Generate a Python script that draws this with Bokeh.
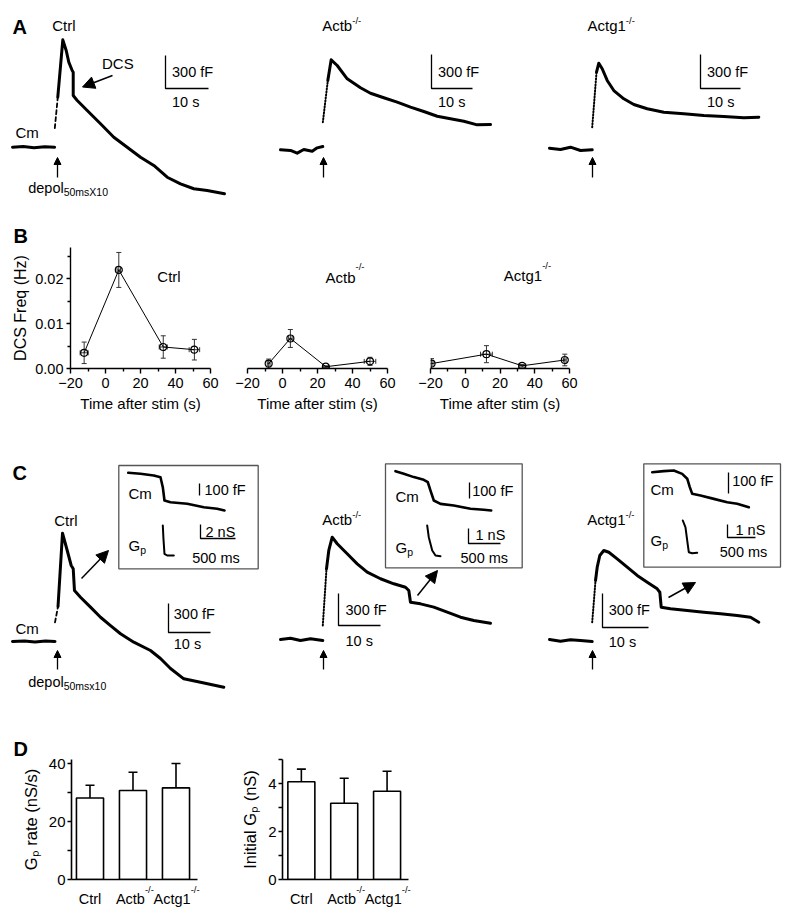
from bokeh.plotting import figure
from bokeh.models import (Range1d, Label, Arrow, NormalHead, Whisker, TeeHead,
                          ColumnDataSource, FixedTicker, PrintfTickFormatter,
                          CustomJSTickFormatter, LinearAxis)
from bokeh.layouts import column, row
from bokeh.embed import file_html
from bokeh.resources import INLINE

FONT = "Liberation Sans"

# ======================= DATA =======================
groups = ["Ctrl", "Actb", "Actg1"]
ko_sup = "-/-"

# ---- Panel A : Cm traces (t: s after stimulus, cm: fF relative to baseline)
A_ctrl_base_t = [-10.0, -7.5, -5.0, -2.5, -0.2]
A_ctrl_base_cm = [0, 6, -4, 5, 0]
A_ctrl_rise_t = [-0.16, 0.53]
A_ctrl_rise_cm = [173, 455]
A_ctrl_t = [0.53, 1.70, 2.49, 3.09, 3.88, 4.12, 4.12, 5.05, 7.37, 10.47, 13.56, 16.67,
            19.77, 22.86, 25.98, 29.07, 32.16, 35.28, 39.3]
A_ctrl_cm = [455, 976, 879, 773, 697, 682, 470, 425, 334, 213, 91, 0, -91, -166, -273,
             -333, -378, -394, -424]

A_actb_base_t = [-10.56, -8.12, -6.49, -4.88, -2.83, -1.61, -0.24]
A_actb_base_cm = [2, -4, -28, 4, -11, 19, 31]
A_actb_rise_t = [-0.24, 0.98]
A_actb_rise_cm = [245, 613]
A_actb_t = [0.98, 1.80, 3.27, 5.71, 8.95, 11.39, 14.63, 17.90, 21.15, 24.39, 27.66, 30.9,
            34.15, 37.41, 40.66]
A_actb_cm = [613, 796, 746, 628, 549, 501, 461, 422, 378, 340, 298, 275, 254, 222, 225]

A_actg_base_t = [-10.83, -8.08, -5.58, -3.08, -0.15]
A_actg_base_cm = [7, -4, 16, -13, -7]
A_actg_rise_t = [-0.15, 0.93]
A_actg_rise_cm = [192, 678]
A_actg_t = [0.93, 1.50, 2.35, 3.6, 5.25, 7.75, 10.25, 13.6, 17.75, 22.75, 27.75, 32.75,
            37.75, 41.5]
A_actg_cm = [678, 757, 708, 605, 516, 443, 393, 355, 325, 311, 296, 287, 275, 281]

# ---- Panel B : DCS frequency (Hz) vs time after stim (s), mean +/- SEM
B_ctrl_t = [-12.2, 7.6, 33.0, 50.8]
B_ctrl_f = [0.0035, 0.0220, 0.0048, 0.0042]
B_ctrl_ferr = [0.0024, 0.0039, 0.0025, 0.0023]
B_ctrl_terr = [2.3, 1.0, 2.3, 3.0]
B_actb_t = [-7.9, 4.5, 24.8, 50.0]
B_actb_f = [0.0011, 0.0067, 0.0004, 0.0016]
B_actb_ferr = [0.0010, 0.0020, 0.0002, 0.0009]
B_actb_terr = [0.8, 1.0, 1.5, 3.3]
B_actg_t = [-19.4, 12.2, 32.8, 57.3]
B_actg_f = [0.0011, 0.0032, 0.0006, 0.0019]
B_actg_ferr = [0.0011, 0.0019, 0.0003, 0.0013]
B_actg_terr = [0.8, 3.4, 2.0, 0.8]
B_xticks = [-20, 0, 20, 40, 60]
B_yticks = [0.0, 0.01, 0.02]

# ---- Panel C : Cm traces (s, fF)
C_ctrl_base_t = [-10.36, -7.5, -5.0, -2.5, -0.24]
C_ctrl_base_cm = [0, 5, -5, 4, 0]
C_ctrl_rise_t = [-0.24, 0.48]
C_ctrl_rise_cm = [197, 362]
C_ctrl_t = [0.48, 1.55, 2.67, 3.62, 4.10, 4.40, 5.83, 8.21, 10.6, 12.98, 15.36, 18.52,
            22.5, 24.88, 27.26, 30.43, 34.4, 39.95]
C_ctrl_cm = [362, 1120, 941, 786, 752, 527, 458, 355, 251, 165, 80, -7, -93, -176, -279,
             -386, -421, -473]

C_actb_base_t = [-10.31, -7.93, -5.55, -3.17, -0.24]
C_actb_base_cm = [3, 15, -7, 9, -7]
C_actb_rise_t = [-0.24, 0.64]
C_actb_rise_cm = [134, 665]
C_actb_t = [0.64, 1.19, 2.0, 3.19, 5.57, 7.95, 10.33, 13.5, 16.67, 19.45, 20.24, 20.64,
            23.02, 26.19, 29.38, 32.55, 35.71, 39.69]
C_actb_cm = [665, 837, 962, 900, 806, 712, 634, 572, 525, 493, 462, 352, 337, 306, 259,
             212, 181, 156]

C_actg_base_t = [-9.41, -7.02, -4.85, -2.67, -0.13]
C_actg_base_cm = [9, -6, 6, 0, -9]
C_actg_rise_t = [-0.13, 0.59]
C_actg_rise_cm = [161, 530]
C_actg_t = [0.59, 0.96, 1.52, 2.39, 3.48, 5.3, 7.48, 9.65, 11.83, 14.0, 14.57, 14.87,
            16.89, 20.52, 24.13, 27.76, 31.39, 34.28, 36.09]
C_actg_cm = [530, 647, 750, 794, 779, 721, 647, 574, 515, 456, 426, 294, 280, 265, 250,
             236, 221, 206, 161]

# ---- Panel C insets : single DCS event (ms, fF) and Gp (ms, nS)
I_ctrl_t = [-494, -319, -129, -33, 0, 24, 110, 349, 586, 777, 881]
I_ctrl_cm = [0, -8, -22, -37, -120, -231, -245, -258, -287, -300, -314]
I_ctrl_gt = [0, 10, 24, 63, 157]
I_ctrl_gp = [4.29, 2.3, 0.24, 0.0, 0.0]
I_actb_t = [-547, -417, -261, -105, -42, 0, 52, 156, 364, 625, 833, 948]
I_actb_cm = [0, -16, -37, -54, -69, -121, -183, -204, -214, -235, -241, -246]
I_actb_gt = [-52, -27, 27, 78, 156]
I_actb_gp = [2.05, 1.27, 0.38, 0.05, 0.0]
I_actg_t = [-671, -464, -286, -136, -46, 0, 43, 191, 429, 668, 846, 1054]
I_actg_cm = [0, 5, 8, -8, -31, -71, -103, -111, -127, -143, -150, -167]
I_actg_gt = [-125, -77, -46, -18, 43, 132]
I_actg_gp = [2.5, 1.98, 0.96, 0.06, -0.02, 0.02]

# ---- Panel D : bars, mean + SEM
D_rate = [28.2, 30.8, 31.7]
D_rate_err = [4.4, 6.3, 8.4]
D_init = [4.07, 3.18, 3.68]
D_init_err = [0.53, 1.04, 0.83]

# ======================= HELPERS =======================
PW = 800
AW = {'A': .667, 'c': .5, 't': .278, 'b': .556, 'g': .556, '1': .556, 'C': .722,
      'r': .333, 'l': .222, 'd': .556, 'e': .556, 'p': .556, 'o': .556, 'G': .778,
      '-': .333, '/': .278}


def tw(s, size):
    return sum(AW.get(ch, .556) for ch in s) * size


def txt(p, x, y, s, size=14.5, align="left", bold=False, **kw):
    p.add_layout(Label(x=x, y=y, text=s, text_font=FONT, text_font_size=f"{size}px",
                       text_align=align, text_baseline="middle", text_color="black",
                       text_font_style="bold" if bold else "normal", **kw))


def ko(p, x, y, main, size=15, up=5.5, sub=False, subtext=None, subsize=9.5):
    txt(p, x, y, main, size)
    s = subtext if subtext is not None else ko_sup
    dy = 4 if sub else -up
    txt(p, x + tw(main, size), y + dy, s, subsize)


def frames(p, spec, top, bottom):
    xr, yr = {}, {}
    for name, f in spec.items():
        xr[name] = Range1d((0 - f["x0"]) / f["sx"], (PW - f["x0"]) / f["sx"])
        yr[name] = Range1d((f["y0"] - bottom) / f["sy"], (f["y0"] - top) / f["sy"])
    p.extra_x_ranges = xr
    p.extra_y_ranges = yr


def pdata(f, px, py):
    return (px - f["x0"]) / f["sx"], (f["y0"] - py) / f["sy"]


def trace(p, name, t, y, lw=3.0, dash="solid"):
    p.line(t, y, x_range_name=name, y_range_name=name, line_color="black",
           line_width=lw, line_dash=dash, line_join="round", line_cap="round")


def lbar(p, name, f, px, py, dx, dy, lw=1.3):
    tx, ty = pdata(f, px, py)
    p.line([tx, tx, tx + dx], [ty + dy, ty, ty], x_range_name=name, y_range_name=name,
           line_color="black", line_width=lw)


def arrow(p, x0, y0, x1, y1, size=10, lw=1.5):
    p.add_layout(Arrow(end=NormalHead(size=size, fill_color="black", line_color="black"),
                       x_start=x0, y_start=y0, x_end=x1, y_end=y1,
                       line_width=lw, line_color="black"))


def canvas(top, bottom):
    p = figure(width=PW, height=bottom - top, x_range=Range1d(0, PW),
               y_range=Range1d(bottom, top), x_axis_location=None, y_axis_location=None,
               min_border=0, output_backend="svg", toolbar_location=None)
    p.outline_line_color = None
    p.grid.visible = False
    return p


def style_axis(ax, lw=1.5, tick_size="14.5px", label_size="15px"):
    ax.axis_line_width = lw
    ax.axis_line_color = "black"
    ax.major_tick_line_width = lw
    ax.minor_tick_line_width = lw
    ax.major_tick_line_color = "black"
    ax.minor_tick_line_color = "black"
    ax.major_tick_in = 0
    ax.minor_tick_in = 0
    ax.major_label_text_font = FONT
    ax.major_label_text_font_size = tick_size
    ax.major_label_text_color = "black"
    ax.axis_label_text_font = FONT
    ax.axis_label_text_font_style = "normal"
    ax.axis_label_text_font_size = label_size
    ax.axis_label_text_color = "black"


# ======================= PANEL A (page y 0..247) =======================
pA = canvas(0, 247)
FA = {"a_ctrl": dict(x0=55.0, y0=146.7, sx=4.3, sy=0.11),
      "a_actb": dict(x0=323.3, y0=149.5, sx=4.1, sy=0.1133),
      "a_actg": dict(x0=592.3, y0=148.5, sx=4.0, sy=0.1133)}
frames(pA, FA, 0, 247)

trace(pA, "a_ctrl", A_ctrl_base_t, A_ctrl_base_cm)
trace(pA, "a_ctrl", A_ctrl_rise_t, A_ctrl_rise_cm, lw=1.8, dash="4 3")
trace(pA, "a_ctrl", A_ctrl_t, A_ctrl_cm)
trace(pA, "a_actb", A_actb_base_t, A_actb_base_cm)
trace(pA, "a_actb", A_actb_rise_t, A_actb_rise_cm, lw=2.0, dash="1 2")
trace(pA, "a_actb", A_actb_t, A_actb_cm)
trace(pA, "a_actg", A_actg_base_t, A_actg_base_cm)
trace(pA, "a_actg", A_actg_rise_t, A_actg_rise_cm, lw=2.0, dash="1 2")
trace(pA, "a_actg", A_actg_t, A_actg_cm)

for name, cx in (("a_ctrl", 165), ("a_actb", 431), ("a_actg", 700)):
    lbar(pA, name, FA[name], cx, 88, 10, 300)
    txt(pA, cx + 6.5, 71, "300 fF")
    txt(pA, cx + 6.5, 101.5, "10 s")
for ax in (57, 323, 592):
    arrow(pA, ax, 177, ax, 157, size=7, lw=1.3)

txt(pA, 12, 26.5, "A", size=20, bold=True)
txt(pA, 63.3, 25, "Ctrl", 15, align="center")
ko(pA, 321.7, 25, "Actb")
ko(pA, 587, 25, "Actg1")
txt(pA, 101.5, 63, "DCS", 15)
arrow(pA, 112, 75, 82, 86.5, size=12, lw=1.5)
txt(pA, 15, 132, "Cm", 15)
ko(pA, 27.7, 187, "depol", 14.5, sub=True, subtext="50msX10", subsize=10.5)
txt(pA, 13, 235.5, "B", size=20, bold=True)


# ======================= PANEL B (page y 247..420) =======================
def bpanel(width, bl, br, t, f, ferr, terr, with_y):
    p = figure(width=width, height=173, x_range=Range1d(-20, 60),
               y_range=Range1d(0, 121.0 / 4480.0),
               output_backend="svg", toolbar_location=None,
               min_border_left=bl, min_border_right=br, min_border_top=0,
               min_border_bottom=52, y_axis_location="left" if with_y else None)
    p.grid.visible = False
    p.outline_line_color = None
    p.xaxis.ticker = FixedTicker(ticks=B_xticks, minor_ticks=[-10, 10, 30, 50])
    p.xaxis.axis_label = "Time after stim (s)"
    style_axis(p.xaxis[0], lw=1.4)
    p.xaxis.major_tick_out = 5
    p.xaxis.minor_tick_out = 3
    p.xaxis.major_label_standoff = 4
    p.xaxis.axis_label_standoff = 4
    if with_y:
        p.yaxis.ticker = FixedTicker(ticks=B_yticks, minor_ticks=[0.005, 0.015, 0.025])
        p.yaxis.formatter = PrintfTickFormatter(format="%.2f")
        p.yaxis.axis_label = "DCS Freq (Hz)"
        style_axis(p.yaxis[0], lw=1.4, label_size="16px")
        p.yaxis.major_tick_out = 4
        p.yaxis.minor_tick_out = 3
        p.yaxis.major_label_standoff = 3
        p.yaxis.axis_label_standoff = 3
    src = ColumnDataSource(dict(
        t=t, f=f,
        flo=[a - b for a, b in zip(f, ferr)], fhi=[a + b for a, b in zip(f, ferr)],
        tlo=[a - b for a, b in zip(t, terr)], thi=[a + b for a, b in zip(t, terr)]))
    p.add_layout(Whisker(source=src, base="t", lower="flo", upper="fhi", dimension="height",
                         line_color="#333333", line_width=1,
                         lower_head=TeeHead(size=5, line_color="#333333", line_width=1),
                         upper_head=TeeHead(size=5, line_color="#333333", line_width=1)))
    p.add_layout(Whisker(source=src, base="f", lower="tlo", upper="thi", dimension="width",
                         line_color="#333333", line_width=1,
                         lower_head=TeeHead(size=5, line_color="#333333", line_width=1),
                         upper_head=TeeHead(size=5, line_color="#333333", line_width=1)))
    p.line("t", "f", source=src, line_color="black", line_width=1)
    p.scatter("t", "f", source=src, size=7, marker="circle", fill_color=None,
              line_color="black", line_width=1.2)
    return p


pB1 = bpanel(230, 70, 20, B_ctrl_t, B_ctrl_f, B_ctrl_ferr, B_ctrl_terr, True)
pB2 = bpanel(185, 17, 28, B_actb_t, B_actb_f, B_actb_ferr, B_actb_terr, False)
pB3 = bpanel(385, 15, 231, B_actg_t, B_actg_f, B_actg_ferr, B_actg_terr, False)


def bxy(px, py, left, pxu):
    return -20 + (px - left) / pxu, (368.0 - py) / 4480.0


x, y = bxy(168.5, 276, 70, 1.75)
txt(pB1, x, y, "Ctrl", 15, align="center")
x, y = bxy(325, 276.5, 247, 1.75)
txt(pB2, x, y, "Actb", 15)
x, y = bxy(325 + tw("Actb", 15), 266, 247, 1.75)
txt(pB2, x, y, ko_sup, 9.5)
x, y = bxy(503.3, 275, 430, 1.7375)
txt(pB3, x, y, "Actg1", 15)
x, y = bxy(503.3 + tw("Actg1", 15), 264.5, 430, 1.7375)
txt(pB3, x, y, ko_sup, 9.5)

# ======================= PANEL C (page y 420..729) =======================
pC = canvas(420, 729)
FC = {"c_ctrl": dict(x0=55.5, y0=641.0, sx=4.2, sy=0.0967),
      "c_actb": dict(x0=323.3, y0=639.3, sx=4.2, sy=0.1067),
      "c_actg": dict(x0=592.3, y0=640.0, sx=4.6, sy=0.1133),
      "i_ctrl": dict(x0=162.3, y0=472.3, sx=0.07, sy=0.12),
      "g_ctrl": dict(x0=162.3, y0=555.0, sx=0.07, sy=7.0),
      "i_actb": dict(x0=430.0, y0=470.7, sx=0.064, sy=0.16),
      "g_actb": dict(x0=430.0, y0=555.7, sx=0.064, sy=15.0),
      "i_actg": dict(x0=689.3, y0=471.7, sx=0.056, sy=0.21),
      "g_actg": dict(x0=689.3, y0=552.5, sx=0.056, sy=13.0)}
frames(pC, FC, 420, 729)

pC.quad(left=[118.3, 385.0, 643.3], right=[257.7, 521.7, 780.0],
        top=[465.0, 463.3, 463.3], bottom=[568.3, 567.3, 566.7],
        fill_color=None, line_color="#555555", line_width=1.3)

trace(pC, "c_ctrl", C_ctrl_base_t, C_ctrl_base_cm)
trace(pC, "c_ctrl", C_ctrl_rise_t, C_ctrl_rise_cm, lw=1.8, dash="4 3")
trace(pC, "c_ctrl", C_ctrl_t, C_ctrl_cm)
trace(pC, "c_actb", C_actb_base_t, C_actb_base_cm)
trace(pC, "c_actb", C_actb_rise_t, C_actb_rise_cm, lw=2.0, dash="1 2")
trace(pC, "c_actb", C_actb_t, C_actb_cm)
trace(pC, "c_actg", C_actg_base_t, C_actg_base_cm)
trace(pC, "c_actg", C_actg_rise_t, C_actg_rise_cm, lw=2.0, dash="1 2")
trace(pC, "c_actg", C_actg_t, C_actg_cm)

trace(pC, "i_ctrl", I_ctrl_t, I_ctrl_cm, lw=2.6)
trace(pC, "g_ctrl", I_ctrl_gt, I_ctrl_gp, lw=2.0)
trace(pC, "i_actb", I_actb_t, I_actb_cm, lw=2.6)
trace(pC, "g_actb", I_actb_gt, I_actb_gp, lw=2.0)
trace(pC, "i_actg", I_actg_t, I_actg_cm, lw=2.6)
trace(pC, "g_actg", I_actg_gt, I_actg_gp, lw=2.0)

for name, cx, cy, tx, ty1, ty2 in (("c_ctrl", 168, 632, 173.3, 613, 643),
                                   ("c_actb", 338, 625, 345, 609, 640),
                                   ("c_actg", 602, 627, 608.3, 609, 641)):
    lbar(pC, name, FC[name], cx, cy, 10, 300)
    txt(pC, tx, ty1, "300 fF")
    txt(pC, tx, ty2, "10 s")

for name, gname, bx, by, cx, cy, gs in (("i_ctrl", "g_ctrl", 199, 495, 200, 538, 2),
                                        ("i_actb", "g_actb", 469, 498, 468, 543, 1),
                                        ("i_actg", "g_actg", 728, 493, 727, 537, 1)):
    lbar(pC, name, FC[name], bx, by, 0, 100)
    lbar(pC, gname, FC[gname], cx, cy, 500, gs)

txt(pC, 204, 489, "100 fF")
txt(pC, 205, 531.5, "2 nS")
txt(pC, 191.7, 557.5, "500 ms")
txt(pC, 471.7, 490, "100 fF")
txt(pC, 475, 534, "1 nS")
txt(pC, 460, 557.5, "500 ms")
txt(pC, 731.7, 480, "100 fF")
txt(pC, 735, 529, "1 nS")
txt(pC, 719.3, 551, "500 ms")

for cx, cmy, gy in ((128, 493, 545), (395, 496, 547), (650, 489, 540)):
    txt(pC, cx, cmy, "Cm", 15)
    ko(pC, cx, gy, "G", 15, sub=True, subtext="p", subsize=10.5)

txt(pC, 12, 472.5, "C", size=20, bold=True)
txt(pC, 65.3, 520, "Ctrl", 15, align="center")
ko(pC, 321.7, 519, "Actb")
ko(pC, 586.7, 519, "Actg1")
txt(pC, 15, 628, "Cm", 15)
for ax in (57, 323, 592):
    arrow(pC, ax, 669, ax, 650, size=7, lw=1.3)
ko(pC, 27.7, 681, "depol", 14.5, sub=True, subtext="50msx10", subsize=10.5)

arrow(pC, 81, 578, 108, 550, size=12, lw=1.5)
arrow(pC, 417, 595, 437, 570, size=12, lw=1.5)
arrow(pC, 668, 597, 695, 582, size=12, lw=1.5)

# ======================= PANEL D (page y 729..917) =======================
label_shift = [0.0, -0.06, -0.09]


def dpanel(width, bl, br, bt, bb, xr, yr, vals, errs, ylabel, yticks, yminor, pxu,
           letter=None):
    p = figure(width=width, height=188, x_range=Range1d(*xr), y_range=Range1d(*yr),
               output_backend="svg", toolbar_location=None,
               min_border_left=bl, min_border_right=br, min_border_top=bt,
               min_border_bottom=bb)
    p.grid.visible = False
    p.outline_line_color = None
    if letter:
        p.title.text = letter
        p.title.text_font = FONT
        p.title.text_font_size = "20px"
        p.title.text_font_style = "bold"
        p.title.text_color = "black"
        p.title.align = "left"
        p.title.offset = -(bl - 13)
        p.title.standoff = 0
    xs = list(range(len(groups)))
    p.vbar(x=xs, width=0.63, bottom=0, top=vals, fill_color="white",
           line_color="black", line_width=1.6)
    src = ColumnDataSource(dict(x=xs, lo=vals, hi=[v + e for v, e in zip(vals, errs)]))
    p.add_layout(Whisker(source=src, base="x", lower="lo", upper="hi", dimension="height",
                         line_color="black", line_width=1.6, lower_head=None,
                         upper_head=TeeHead(size=9, line_color="black", line_width=1.6)))
    ticks = [i + s for i, s in zip(xs, label_shift)]
    # nearest axis: baseline + superscripts of knock-out labels
    sup_ticks = [ticks[i] + (tw(groups[i], 14.5) / 2 + tw(ko_sup, 9.5) / 2) / pxu
                 for i in (1, 2)]
    p.xaxis.ticker = FixedTicker(ticks=sup_ticks, minor_ticks=[])
    p.xaxis.formatter = CustomJSTickFormatter(args=dict(s=ko_sup), code="return s;")
    style_axis(p.xaxis[0], lw=1.6, tick_size="9.5px")
    p.xaxis.major_tick_out = 0
    p.xaxis.major_label_standoff = 4
    # second axis: group names
    ax2 = LinearAxis(ticker=FixedTicker(ticks=ticks, minor_ticks=[]),
                     formatter=CustomJSTickFormatter(args=dict(names=groups),
                                                     code="return names[index];"))
    style_axis(ax2, lw=1.6, tick_size="14.5px")
    ax2.axis_line_color = None
    ax2.major_tick_line_color = None
    ax2.minor_tick_line_color = None
    ax2.major_tick_out = 0
    ax2.major_label_standoff = -7
    p.add_layout(ax2, "below")
    p.yaxis.ticker = FixedTicker(ticks=yticks, minor_ticks=yminor)
    p.yaxis.axis_label = ylabel
    style_axis(p.yaxis[0], lw=1.6, tick_size="15px", label_size="16.5px")
    p.yaxis.major_tick_out = 4
    p.yaxis.minor_tick_out = 4
    p.yaxis.major_label_standoff = 2
    p.yaxis.axis_label_standoff = 6
    return p


pD1 = dpanel(230, 71, 33, 30, 38, (-0.43, 2.50), (0, 41.5), D_rate, D_rate_err,
             "G\u209a rate (nS/s)", [0, 20, 40], [10, 30], 43.0, letter="D")
pD2 = dpanel(570, 52, 392, 29, 37, (-0.44, 2.5), (0, 5.0), D_init, D_init_err,
             "Initial G\u209a (nS)", [0, 2, 4], [1, 3, 5], 42.8)

layout = column(pA, row(pB1, pB2, pB3), pC, row(pD1, pD2))
open("out.html", "w").write(file_html(layout, INLINE))
